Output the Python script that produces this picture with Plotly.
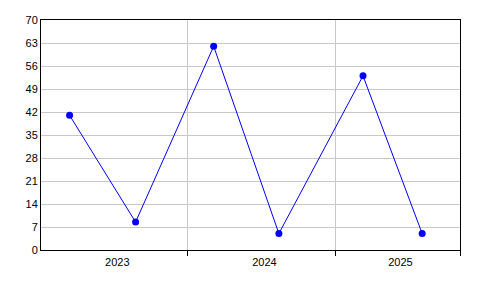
import plotly.graph_objects as go
import pandas as pd

dates = ["2023-03-13", "2023-08-24", "2024-03-05", "2024-08-14", "2025-03-11", "2025-08-05"]
values = [41, 8.5, 62, 5, 53, 5]
x_range = ["2023-01-01", "2025-11-07"]
year_starts = ["2023-01-01", "2024-01-01", "2025-01-01"]
year_labels = ["2023", "2024", "2025"]
y_ticks = [0, 7, 14, 21, 28, 35, 42, 49, 56, 63, 70]

# centre year labels in the visible part of each year (small rightward nudge like the original)
label_nudge = pd.Timedelta(days=7)
bounds = [pd.Timestamp(x_range[0])] + [pd.Timestamp(s) for s in year_starts[1:]] + [pd.Timestamp(x_range[1])]
mids = [(bounds[i] + (bounds[i + 1] - bounds[i]) / 2 + label_nudge).strftime("%Y-%m-%d %H:%M")
        for i in range(len(year_labels))]

font = dict(family="Liberation Sans, Arial, sans-serif", size=11, color="black")

fig = go.Figure()
fig.add_trace(go.Scatter(
    x=dates, y=values, mode="lines+markers",
    line=dict(color="#0000ff", width=1),
    marker=dict(color="#0000ff", size=7),
    xaxis="x", yaxis="y",
))
# invisible trace for the label axis
fig.add_trace(go.Scatter(x=dates, y=values, mode="none", xaxis="x2", yaxis="y",
                         hoverinfo="skip", showlegend=False))

fig.update_layout(
    width=496, height=296,
    margin=dict(l=41, r=36, t=20, b=46, autoexpand=False),
    paper_bgcolor="white", plot_bgcolor="white",
    showlegend=False,
    font=font,
    xaxis=dict(
        type="date", range=x_range,
        tickvals=year_starts[1:] + [x_range[1]], showticklabels=False,
        ticks="outside", ticklen=5, tickcolor="black", tickwidth=1,
        showgrid=True, gridcolor="#c8c8c8", gridwidth=1,
        showline=True, linecolor="black", linewidth=1, mirror=True,
        zeroline=False,
    ),
    xaxis2=dict(
        type="date", range=x_range, overlaying="x", side="bottom",
        tickvals=mids, ticktext=year_labels, ticks="", ticklen=0,
        showgrid=False, showline=False, zeroline=False,
        tickfont=font, ticklabelstandoff=4,
    ),
    yaxis=dict(
        range=[0, 70], tickvals=y_ticks,
        ticks="", showgrid=True, gridcolor="#c8c8c8", gridwidth=1,
        showline=True, linecolor="black", linewidth=1, mirror=True,
        zeroline=False, tickfont=font,
    ),
)

fig.write_html("out.html")
